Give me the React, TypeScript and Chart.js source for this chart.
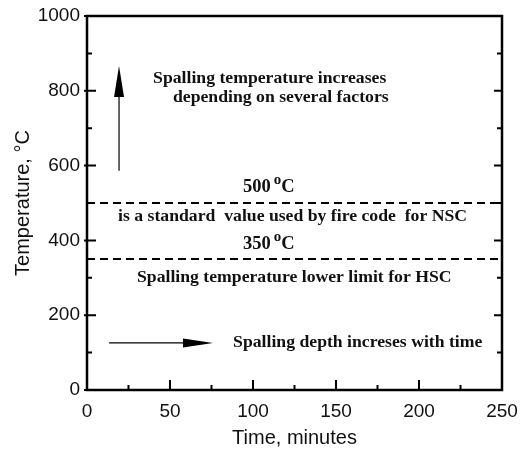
import React, { useEffect, useRef } from "react";
import { Chart, registerables } from "chart.js";

Chart.register(...registerables);

// Axis ranges and ticks
const xRange = [0, 250];
const yRange = [0, 1000];
const xMajorStep = 50;
const yMajorStep = 200;

// Horizontal limit lines (°C)
const limitTemps = [500, 350];

// Arrows: [x0, y0, x1, y1] in data units (tail -> tip)
const upArrow = [19.3, 586, 19.3, 866];
const rightArrow = [13.3, 126, 75.9, 126];

// Annotation texts
const noteTexts = [
  "Spalling temperature increases",
  "depending on several factors",
  "is a standard  value used by fire code  for NSC",
  "Spalling temperature lower limit for HSC",
  "Spalling depth increses with time",
];
const noteX = [39.8, 51.8, 18.7, 30.1, 88];
const noteY = [834, 781, 465, 302, 128];

const degreeLabels = ["500", "350"];
const degreeX = [94, 94];
const degreeY = [543, 390];

const SERIF = "'Liberation Serif', 'Times New Roman', serif";
const SANS = "'Liberation Sans', Arial, sans-serif";

const framePlugin = {
  id: "frameAndNotes",
  afterDraw(chart: any) {
    const { ctx, chartArea } = chart;
    const xs = chart.scales.x;
    const ys = chart.scales.y;
    const { left, right, top, bottom } = chartArea;
    ctx.save();
    ctx.strokeStyle = "#000";
    ctx.lineWidth = 2.5;
    ctx.strokeRect(left, top, right - left, bottom - top);

    // ticks
    ctx.lineWidth = 2;
    for (let v = yRange[0]; v <= yRange[1]; v += yMajorStep / 2) {
      const p = ys.getPixelForValue(v);
      const major = v % yMajorStep === 0;
      ctx.beginPath();
      ctx.moveTo(left - (major ? 3 : 0), p);
      ctx.lineTo(left + (major ? 9 : 5), p);
      ctx.moveTo(right, p);
      ctx.lineTo(right - (major ? 8 : 5), p);
      ctx.stroke();
    }
    for (let v = xRange[0]; v <= xRange[1]; v += xMajorStep / 2) {
      const p = xs.getPixelForValue(v);
      const major = v % xMajorStep === 0;
      ctx.beginPath();
      ctx.moveTo(p, bottom);
      ctx.lineTo(p, bottom - (major ? 10 : 5));
      ctx.stroke();
    }

    // arrowheads
    const head = (a: number[], len: number, half: number) => {
      const x0 = xs.getPixelForValue(a[0]);
      const y0 = ys.getPixelForValue(a[1]);
      const x1 = xs.getPixelForValue(a[2]);
      const y1 = ys.getPixelForValue(a[3]);
      const ang = Math.atan2(y1 - y0, x1 - x0);
      const bx = x1 - len * Math.cos(ang);
      const by = y1 - len * Math.sin(ang);
      const nx = -Math.sin(ang);
      const ny = Math.cos(ang);
      ctx.fillStyle = "#000";
      ctx.beginPath();
      ctx.moveTo(x1, y1);
      ctx.lineTo(bx + nx * half, by + ny * half);
      ctx.lineTo(bx - nx * half, by - ny * half);
      ctx.closePath();
      ctx.fill();
    };
    head(upArrow, 31, 5);
    head(rightArrow, 30, 4.5);

    // texts
    ctx.fillStyle = "#111";
    ctx.textBaseline = "middle";
    ctx.textAlign = "left";
    ctx.font = `bold 17.7px ${SERIF}`;
    noteTexts.forEach((t, i) => {
      ctx.fillText(t, xs.getPixelForValue(noteX[i]), ys.getPixelForValue(noteY[i]));
    });
    degreeLabels.forEach((t, i) => {
      const x = xs.getPixelForValue(degreeX[i]);
      const y = ys.getPixelForValue(degreeY[i]);
      ctx.font = `bold 18.5px ${SERIF}`;
      ctx.fillText(t, x, y);
      let w = ctx.measureText(t).width + 3;
      ctx.font = `bold 15px ${SERIF}`;
      ctx.fillText("o", x + w, y - 7);
      w += ctx.measureText("o").width;
      ctx.font = `bold 18.5px ${SERIF}`;
      ctx.fillText("C", x + w, y);
    });
    ctx.restore();
  },
};

export default function App() {
  const ref = useRef<HTMLCanvasElement>(null);
  useEffect(() => {
    if (!ref.current) return;
    const lineDs = (pts: { x: number; y: number }[], dash: number[], width: number) => ({
      data: pts,
      borderColor: "#000",
      borderWidth: width,
      borderDash: dash,
      pointRadius: 0,
      fill: false,
      tension: 0,
    });
    const datasets = [
      ...limitTemps.map((t) =>
        lineDs([{ x: xRange[0], y: t }, { x: xRange[1], y: t }], [8, 5], 2)
      ),
      lineDs([{ x: upArrow[0], y: upArrow[1] }, { x: upArrow[2], y: upArrow[3] - 40 }], [], 1.2),
      lineDs([{ x: rightArrow[0], y: rightArrow[1] }, { x: rightArrow[2] - 4, y: rightArrow[3] }], [], 1.2),
    ];
    const chart = new Chart(ref.current, {
      type: "line",
      data: { datasets },
      options: {
        animation: false,
        responsive: false,
        devicePixelRatio: 1,
        layout: { padding: { top: 16, right: 23, left: 0, bottom: 0 } },
        plugins: { legend: { display: false }, tooltip: { enabled: false } },
        scales: {
          x: {
            type: "linear",
            min: xRange[0],
            max: xRange[1],
            grid: { display: false, drawTicks: false },
            border: { display: false },
            ticks: {
              stepSize: xMajorStep,
              padding: 10,
              color: "#111",
              font: { family: SANS, size: 19 },
              callback: (v: any) => String(v),
            },
            title: {
              display: true,
              text: "Time, minutes",
              color: "#111",
              font: { family: SANS, size: 20 },
              padding: { top: 1 },
            },
            afterFit: (s: any) => {
              s.height = 64;
              s.paddingLeft = 0;
              s.paddingRight = 0;
            },
          },
          y: {
            type: "linear",
            min: yRange[0],
            max: yRange[1],
            grid: { display: false, drawTicks: false },
            border: { display: false },
            ticks: {
              stepSize: yMajorStep,
              padding: 7,
              color: "#111",
              font: { family: SANS, size: 19 },
              callback: (v: any) => String(v),
            },
            title: {
              display: true,
              text: "Temperature, °C",
              color: "#111",
              font: { family: SANS, size: 20 },
              padding: { bottom: 0, top: 11 },
            },
            afterFit: (s: any) => {
              s.width = 87;
              s.paddingTop = 0;
              s.paddingBottom = 0;
            },
          },
        },
      },
      plugins: [framePlugin],
    } as any);
    return () => chart.destroy();
  }, []);
  return (
    <div style={{ position: "fixed", left: 0, top: 0, width: 525, height: 454, background: "#fff" }}>
      <canvas ref={ref} width={525} height={454} />
    </div>
  );
}
